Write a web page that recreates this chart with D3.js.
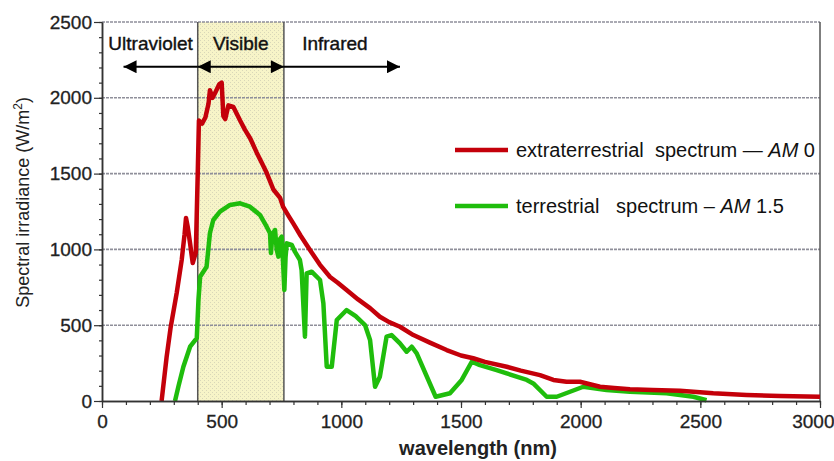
<!DOCTYPE html>
<html>
<head>
<meta charset="utf-8">
<script src="https://cdn.jsdelivr.net/npm/d3@7"></script>
<style>
  body { margin: 0; background: #fff; }
  svg text { font-family: "Liberation Sans", Arial, sans-serif; }
</style>
</head>
<body>
<div id="chart"></div>
<script>
// extraterrestrial spectrum AM0 : [wavelength nm, W/m2]
var am0 = [[249,0],[270,290],[287,488],[312,712],[333,930],[345,1100],[351,1207],[358,1150],[368,1040],[379,910],
  [392,980],[400,1500],[405,1850],[418,1830],[432,1870],[445,1960],[451,2050],[462,2000],[472,2030],[490,2090],
  [500,2100],[507,1880],[515,1860],[528,1950],[549,1940],[577,1850],[597,1790],[620,1730],[646,1640],[668,1570],
  [688,1505],[716,1395],[744,1340],[757,1280],[780,1220],[799,1172],[830,1090],[869,996],[910,900],[953,818],
  [985,780],[1022,732],[1070,670],[1120,613],[1161,556],[1200,520],[1245,490],[1301,435],[1370,385],[1440,336],
  [1500,300],[1551,282],[1600,258],[1691,226],[1750,200],[1830,171],[1886,139],[1941,127],[1997,127],[2081,94],
  [2140,85],[2206,77],[2300,72],[2415,68],[2554,51],[2693,40],[2833,33],[3000,28]];

// terrestrial spectrum AM1.5
var am15 = [[305,0],[320,100],[340,226],[368,358],[396,415],[403,666],[410,820],[437,886],[451,1108],[465,1194],
  [493,1249],[535,1293],[577,1304],[618,1282],[660,1227],[688,1150],[702,1106],[706,976],[712,1100],[723,1128],
  [730,1000],[737,952],[744,1070],[751,1084],[757,900],[762,732],[767,950],[772,1040],[793,1029],[806,985],
  [827,930],[834,864],[848,424],[855,842],[876,853],[911,798],[925,644],[939,226],[960,226],[981,534],
  [1022,600],[1060,560],[1099,501],[1120,402],[1141,94],[1161,160],[1189,424],[1210,435],[1245,380],[1273,325],
  [1294,358],[1315,314],[1394,28],[1454,51],[1503,139],[1545,259],[1579,237],[1649,204],[1691,182],[1775,139],
  [1802,116],[1858,28],[1900,28],[2011,94],[2108,73],[2206,61],[2359,51],[2471,28],[2526,5]];

var xTicks = [0,500,1000,1500,2000,2500,3000];
var yTicks = [0,500,1000,1500,2000,2500];
var visibleBand = [400,760];
var regionNames = ["Ultraviolet","Visible","Infrared"];
var regionCenters = [203,580,973];
var legendNames = ["extraterrestrial  spectrum \u2014 ", "terrestrial   spectrum \u2013 "];
var legendAM = ["AM", "AM"];
var legendNum = [" 0", " 1.5"];

var W = 834, H = 461;
var margin = {left:102, right:14, top:22, bottom:60};

var svg = d3.select("#chart").append("svg").attr("width",W).attr("height",H);

var x = d3.scaleLinear().domain([0,3000]).range([margin.left, W-margin.right]);
var y = d3.scaleLinear().domain([0,2500]).range([H-margin.bottom, margin.top]);

// dotted texture for the visible band
var defs = svg.append("defs");
var pat = defs.append("pattern").attr("id","dots").attr("width",4).attr("height",4)
  .attr("patternUnits","userSpaceOnUse");
pat.append("rect").attr("width",4).attr("height",4).attr("fill","#f7f4c8");
pat.append("rect").attr("x",0).attr("y",0).attr("width",1).attr("height",1).attr("fill","#d9d7b8");
pat.append("rect").attr("x",2).attr("y",2).attr("width",1).attr("height",1).attr("fill","#d9d7b8");

svg.append("rect")
  .attr("x",x(visibleBand[0])).attr("y",y(2500))
  .attr("width",x(visibleBand[1])-x(visibleBand[0]))
  .attr("height",y(0)-y(2500))
  .attr("fill","url(#dots)");

// gridlines
svg.append("g").selectAll("line")
  .data(yTicks.slice(1))
  .enter().append("line")
    .attr("x1",x(0)).attr("x2",x(3000))
    .attr("y1",function(d){ return y(d); }).attr("y2",function(d){ return y(d); })
    .attr("stroke","#8f8f9a").attr("stroke-width",1.6).attr("stroke-dasharray","3,1");

// band edges and right border
svg.append("g").selectAll("line")
  .data([visibleBand[0],visibleBand[1],3000])
  .enter().append("line")
    .attr("x1",function(d){ return x(d); }).attr("x2",function(d){ return x(d); })
    .attr("y1",y(0)).attr("y2",y(2500))
    .attr("stroke","#555").attr("stroke-width",1.5);

// curves
var line = d3.line().x(function(d){ return x(d[0]); }).y(function(d){ return y(d[1]); });

svg.append("path").datum(am15).attr("d",line)
  .attr("fill","none").attr("stroke","#1fbd0c").attr("stroke-width",4.5).attr("stroke-linejoin","round");
svg.append("path").datum(am0).attr("d",line)
  .attr("fill","none").attr("stroke","#c4000a").attr("stroke-width",4.5).attr("stroke-linejoin","round");

// axes
function styleAxis(g){
  g.select(".domain").attr("stroke","#333").attr("stroke-width",1.5);
  g.selectAll(".tick line").attr("stroke","#333").attr("stroke-width",1.2);
  g.selectAll("text").attr("fill","#222").attr("font-size","19px")
    .attr("font-family","Liberation Sans, Arial").attr("stroke","#222").attr("stroke-width",0.3);
}

var minorX = d3.range(0,3001,100), minorY = d3.range(0,2501,100);

svg.append("g").attr("transform","translate(0,"+y(0)+")")
  .call(d3.axisBottom(x).tickValues(minorX).tickSize(4).tickFormat("").tickSizeOuter(0))
  .call(styleAxis);
var xAxisG = svg.append("g").attr("transform","translate(0,"+y(0)+")")
  .call(d3.axisBottom(x).tickValues(xTicks).tickSize(7).tickPadding(7).tickFormat(d3.format("d")).tickSizeOuter(0))
  .call(styleAxis);
// last label sits against the right edge
xAxisG.selectAll(".tick text").filter(function(d){ return d === 3000; })
  .attr("text-anchor","end").attr("dx",14);

svg.append("g").attr("transform","translate("+x(0)+",0)")
  .call(d3.axisLeft(y).tickValues(minorY).tickSize(3).tickFormat("").tickSizeOuter(0))
  .call(styleAxis);
svg.append("g").attr("transform","translate("+x(0)+",0)")
  .call(d3.axisLeft(y).tickValues(yTicks).tickSize(8).tickPadding(2).tickFormat(d3.format("d")).tickSizeOuter(0))
  .call(styleAxis);

// region arrows
defs.append("marker").attr("id","head").attr("viewBox","0 0 10 10")
  .attr("refX",10).attr("refY",5).attr("markerWidth",7.5).attr("markerHeight",6.5)
  .attr("markerUnits","strokeWidth").attr("orient","auto-start-reverse")
  .append("path").attr("d","M0,0L10,5L0,10z").attr("fill","#000");

var arrowY = y(2205);
svg.append("line").attr("x1",x(visibleBand[0])).attr("x2",x(90)).attr("y1",arrowY).attr("y2",arrowY)
  .attr("stroke","#000").attr("stroke-width",2).attr("marker-end","url(#head)");
svg.append("line").attr("x1",x(visibleBand[0])).attr("x2",x(visibleBand[1])).attr("y1",arrowY).attr("y2",arrowY)
  .attr("stroke","#000").attr("stroke-width",2).attr("marker-start","url(#head)").attr("marker-end","url(#head)");
svg.append("line").attr("x1",x(visibleBand[1])).attr("x2",x(1245)).attr("y1",arrowY).attr("y2",arrowY)
  .attr("stroke","#000").attr("stroke-width",2).attr("marker-end","url(#head)");

svg.append("g").selectAll("text")
  .data(regionNames)
  .enter().append("text")
    .attr("x",function(d,i){ return x(regionCenters[i]); })
    .attr("y",y(2315))
    .attr("text-anchor","middle")
    .attr("font-size","19px")
    .attr("fill","#111")
    .attr("stroke","#111").attr("stroke-width",0.4)
    .text(function(d){ return d; });

// legend
var legendColors = ["#c4000a","#1fbd0c"];
var legendY = [150,206];
var lg = svg.append("g");
legendNames.forEach(function(name,i){
  lg.append("line").attr("x1",455).attr("x2",508).attr("y1",legendY[i]).attr("y2",legendY[i])
    .attr("stroke",legendColors[i]).attr("stroke-width",4.5);
  var t = lg.append("text").attr("x",516).attr("y",legendY[i]+7)
    .attr("font-size","20px").attr("fill","#111").style("white-space","pre");
  t.append("tspan").text(name);
  t.append("tspan").attr("font-style","italic").text(legendAM[i]);
  t.append("tspan").text(legendNum[i]);
});

// axis titles
var yt = svg.append("text")
  .attr("transform","translate(29,"+y(1310)+") rotate(-90)")
  .attr("text-anchor","middle").attr("font-size","18px").attr("fill","#222");
yt.append("tspan").text("Spectral irradiance (W/m");
yt.append("tspan").attr("dy",-7).attr("font-size","12px").text("2");
yt.append("tspan").attr("dy",7).text(")");

svg.append("text")
  .attr("x",x(1500)+17).attr("y",455)
  .attr("text-anchor","middle").attr("font-size","20px").attr("font-weight","bold").attr("fill","#222")
  .text("wavelength (nm)");
</script>
</body>
</html>
